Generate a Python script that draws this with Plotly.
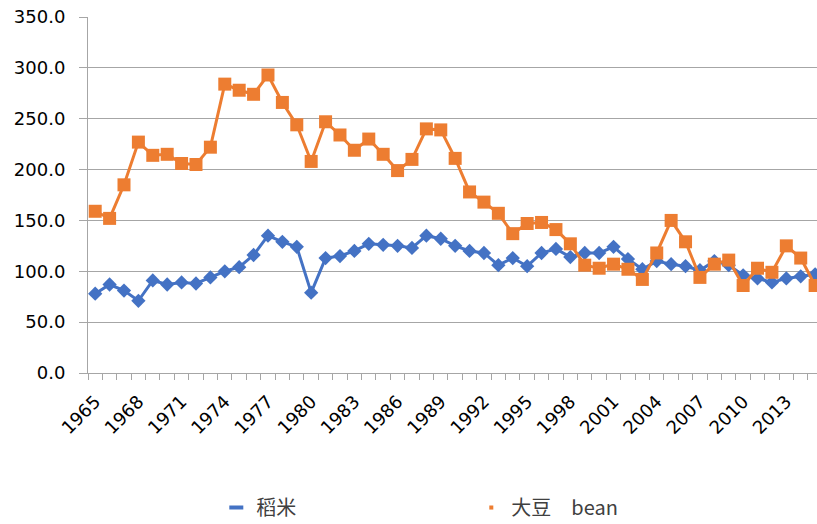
import plotly.graph_objects as go

years = list(range(1965, 2016))
rice = [78, 87, 81, 71, 91, 87, 89, 88, 94, 100,
        104, 116, 135, 129, 124, 79, 113, 115, 120, 127,
        126, 125, 123, 135, 132, 125, 120, 118, 106, 113,
        105, 118, 122, 114, 118, 118, 124, 112, 102, 110,
        107, 105, 101, 110, 106, 96, 93, 89, 93, 95, 97]
soy = [159, 152, 185, 227, 214, 215, 206, 205, 222, 284,
       278, 274, 293, 266, 244, 208, 247, 234, 219, 230,
       215, 199, 210, 240, 239, 211, 178, 168, 157, 137,
       147, 148, 141, 127, 106, 103, 107, 102, 92, 118,
       150, 129, 94, 107, 111, 86, 103, 99, 125, 113, 86]
label_years = years[::3]
name_rice = "稻米"
name_soy = "大豆　bean"

BLUE = "#4472C4"
ORANGE = "#ED7D31"
GRID = "#a6a6a6"

fig = go.Figure()
fig.add_trace(go.Scatter(x=years, y=rice, mode="lines+markers", name=name_rice,
                         line=dict(color=BLUE, width=3),
                         marker=dict(symbol="diamond", size=11, color=BLUE),
                         showlegend=False, cliponaxis=False))
fig.add_trace(go.Scatter(x=years, y=soy, mode="lines+markers", name=name_soy,
                         line=dict(color=ORANGE, width=3),
                         marker=dict(symbol="square", size=13, color=ORANGE),
                         showlegend=False, cliponaxis=False))
# legend samples
fig.add_trace(go.Scatter(x=[None], y=[None], mode="markers", name=name_rice,
                         marker=dict(symbol="line-ew", size=10, color=BLUE,
                                     line=dict(width=4, color=BLUE))))
fig.add_trace(go.Scatter(x=[None], y=[None], mode="markers", name=name_soy,
                         marker=dict(symbol="square", size=4, color=ORANGE)))

fig.update_layout(
    width=817, height=524, autosize=False,
    margin=dict(l=88, r=0, t=17, b=151, pad=0, autoexpand=False),
    paper_bgcolor="white", plot_bgcolor="white",
    font=dict(family="DejaVu Sans", color="#000000"),
    legend=dict(orientation="h",
                x=0.176, y=-0.378, xanchor="left", yanchor="middle",
                entrywidth=210, entrywidthmode="pixels",
                font=dict(family="Noto Sans CJK SC", size=20, color="#404040")),
)
fig.update_xaxes(
    range=[1964.5, 2015.13], automargin=False,
    tickmode="array", tickvals=label_years, ticktext=[str(y) for y in label_years],
    tickangle=-45, ticks="", tickfont=dict(size=18, family="DejaVu Sans"),
    ticklabelstandoff=10,
    showgrid=False, zeroline=False,
    showline=True, linecolor=GRID, linewidth=1,
    minor=dict(tickvals=[y - 0.5 for y in years] + [years[-1] + 0.5],
               ticks="outside", ticklen=6, tickcolor=GRID, showgrid=False),
)
fig.update_yaxes(
    range=[0, 350], dtick=50, tick0=0, tickformat=".1f", automargin=False,
    showgrid=True, gridcolor=GRID, gridwidth=1, zeroline=False,
    showline=True, linecolor=GRID, linewidth=1,
    ticks="outside", ticklen=8, tickcolor=GRID, ticklabelstandoff=10,
    tickfont=dict(size=18, family="DejaVu Sans"),
)
fig.write_html("out.html", config={"displayModeBar": False},
               post_script="document.body.style.margin='0';document.body.style.overflow='hidden';")
